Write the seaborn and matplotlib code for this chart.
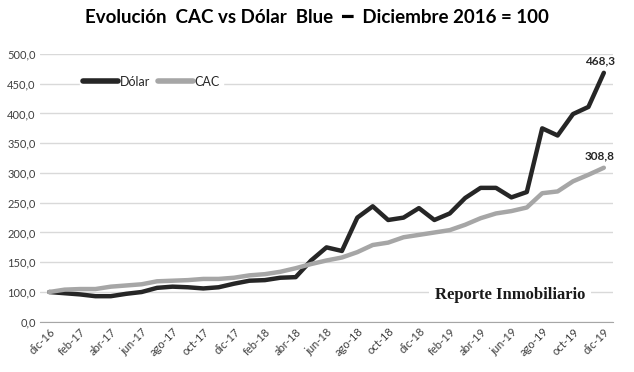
import matplotlib
matplotlib.use("Agg")
import matplotlib.pyplot as plt
import seaborn as sns
import pandas as pd

# monthly series, dic-16 .. dic-19 (base dic-16 = 100)
meses = ["dic-16", "ene-17", "feb-17", "mar-17", "abr-17", "may-17", "jun-17", "jul-17",
         "ago-17", "sep-17", "oct-17", "nov-17", "dic-17", "ene-18", "feb-18", "mar-18",
         "abr-18", "may-18", "jun-18", "jul-18", "ago-18", "sep-18", "oct-18", "nov-18",
         "dic-18", "ene-19", "feb-19", "mar-19", "abr-19", "may-19", "jun-19", "jul-19",
         "ago-19", "sep-19", "oct-19", "nov-19", "dic-19"]
dolar = [100, 98, 96, 93, 93, 97, 100, 107, 109, 108, 106, 108, 114, 119, 120, 124,
         125, 153, 175, 169, 225, 244, 221, 225, 241, 221, 232, 258, 275, 275, 259, 268,
         375, 363, 399, 411, 468.3]
cac = [100, 104, 105, 105, 109, 111, 113, 118, 119, 120, 122, 122, 124, 128, 130, 134,
       140, 147, 153, 158, 167, 179, 183, 192, 196, 200, 204, 213, 224, 232, 236, 242,
       266, 269, 286, 297, 308.8]
series = ["Dólar", "CAC"]
colores = ["#262626", "#A6A6A6"]
yticks = [50, 100, 150, 200, 250, 300, 350, 400, 450, 500]
ytick_labels = ["0,0", "100,0", "150,0", "200,0", "250,0", "300,0", "350,0", "400,0", "450,0", "500,0"]

df = pd.DataFrame({
    "mes": list(range(len(meses))) * 2,
    "valor": dolar + cac,
    "serie": ["Dólar"] * len(dolar) + ["CAC"] * len(cac),
})

sns.set_style("white")
plt.rcParams["font.family"] = ["Lato", "DejaVu Sans"]

fig, ax = plt.subplots(figsize=(6.34, 3.72), dpi=100)
fig.subplots_adjust(left=0.063, right=0.967, top=0.855, bottom=0.135)

sns.lineplot(data=df, x="mes", y="valor", hue="serie", hue_order=series,
             palette=colores, linewidth=3.2, ax=ax, zorder=3)

ax.set_ylim(50, 500)
ax.set_yticks(yticks)
ax.set_yticklabels(ytick_labels, fontsize=8, color="#404040")
ax.set_xlim(-0.6, len(meses) - 0.4)
ax.set_xticks(range(0, len(meses), 2))
ax.set_xticklabels(meses[::2], rotation=45, ha="right", rotation_mode="anchor",
                   fontsize=8, color="#404040")
ax.tick_params(axis="both", length=0, pad=3)
ax.yaxis.grid(True, color="#D9D9D9", linewidth=1)
ax.set_axisbelow(True)
for s in ["top", "right", "left"]:
    ax.spines[s].set_visible(False)
ax.spines["bottom"].set_color("#A6A6A6")
ax.set_xlabel("")
ax.set_ylabel("")

leg = ax.legend(loc="upper left", bbox_to_anchor=(0.07, 0.93), ncol=2, frameon=True,
                fontsize=9, handlelength=2.8, columnspacing=0.6, handletextpad=0.15,
                borderpad=0.25, borderaxespad=0)
leg.get_frame().set_edgecolor("white")
leg.get_frame().set_facecolor("white")
leg.get_frame().set_alpha(1)
for line in leg.get_lines():
    line.set_linewidth(4)

ax.annotate("468,3", (len(dolar) - 1, dolar[-1]), xytext=(-3, 6), textcoords="offset points",
            ha="center", fontsize=8.5, fontweight="bold", color="#262626")
ax.annotate("308,8", (len(cac) - 1, cac[-1]), xytext=(-3, 6), textcoords="offset points",
            ha="center", fontsize=8.5, fontweight="bold", color="#262626")

ax.text(0.82, 0.1, "Reporte Inmobiliario", transform=ax.transAxes, ha="center", va="center",
        fontsize=12, fontweight="bold", family="Liberation Serif", color="#1a1a1a",
        bbox=dict(facecolor="white", edgecolor="none", pad=4), zorder=4)

fig.suptitle("Evolución  CAC vs Dólar  Blue  \u2501  Diciembre 2016 = 100", x=0.5, y=0.975,
             fontsize=13.5, fontweight="bold", color="black")

fig.savefig("out.png", dpi=100)
